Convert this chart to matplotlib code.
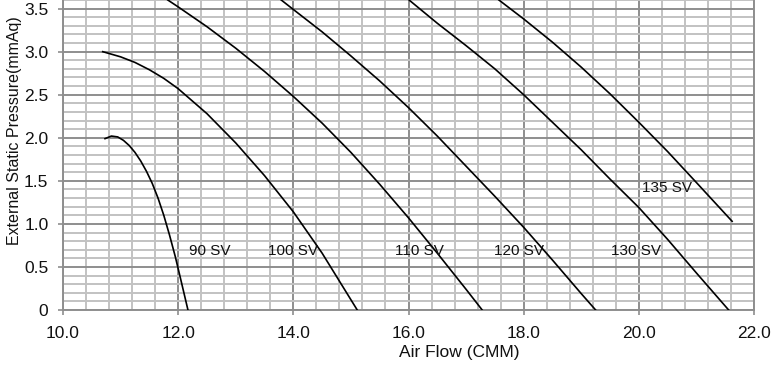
#!/usr/bin/env python3
'''
Fan performance curves: external static pressure vs air flow for each
speed setting (SV).
'''
import matplotlib
matplotlib.use("Agg")
import matplotlib.pyplot as plt
from matplotlib.ticker import MultipleLocator, FixedLocator

plt.rcParams['font.family'] = ['Liberation Sans', 'DejaVu Sans']

# curves: (air flow CMM, pressure mmAq)
sv90_flow = [10.73, 10.84, 10.95, 11.05, 11.15, 11.25, 11.35, 11.45, 11.55,
             11.65, 11.75, 11.85, 11.95, 12.05, 12.17]
sv90_pres = [1.99, 2.02, 2.01, 1.97, 1.91, 1.83, 1.73, 1.61, 1.47,
             1.30, 1.10, 0.87, 0.62, 0.34, 0.0]

sv100_flow = [10.69, 11.0, 11.25, 11.5, 11.75, 12.0, 12.5, 13.0, 13.5, 14.0,
              14.5, 15.11]
sv100_pres = [3.00, 2.94, 2.875, 2.79, 2.69, 2.57, 2.28, 1.94, 1.56, 1.14,
              0.66, 0.0]

sv110_flow = [11.82, 12.0, 12.5, 13.0, 13.5, 14.0, 14.5, 15.0, 15.5, 16.0,
              16.5, 17.0, 17.28]
sv110_pres = [3.60, 3.52, 3.29, 3.04, 2.77, 2.48, 2.17, 1.83, 1.46, 1.07,
              0.66, 0.24, 0.0]

sv120_flow = [13.79, 14.0, 14.5, 15.0, 15.5, 16.0, 16.5, 17.0, 17.5, 18.0,
              18.5, 19.0, 19.25]
sv120_pres = [3.60, 3.49, 3.23, 2.95, 2.66, 2.35, 2.02, 1.67, 1.32, 0.96,
              0.58, 0.19, 0.0]

sv130_flow = [16.01, 16.5, 17.0, 17.5, 18.0, 18.5, 19.0, 19.5, 20.0, 20.5,
              21.0, 21.56]
sv130_pres = [3.60, 3.33, 3.07, 2.80, 2.50, 2.18, 1.86, 1.52, 1.19, 0.82,
              0.43, 0.0]

sv135_flow = [17.57, 18.0, 18.5, 19.0, 19.5, 20.0, 20.5, 21.0, 21.62]
sv135_pres = [3.60, 3.38, 3.11, 2.82, 2.51, 2.18, 1.84, 1.48, 1.03]

curves = [
    (sv90_flow, sv90_pres),
    (sv100_flow, sv100_pres),
    (sv110_flow, sv110_pres),
    (sv120_flow, sv120_pres),
    (sv130_flow, sv130_pres),
    (sv135_flow, sv135_pres),
]

labels = ["90 SV", "100 SV", "110 SV", "120 SV", "130 SV", "135 SV"]
label_x = [12.55, 14.0, 16.19, 17.92, 19.95, 20.49]
label_y = [0.69, 0.69, 0.69, 0.69, 0.69, 1.42]

xticks = [10.0, 12.0, 14.0, 16.0, 18.0, 20.0, 22.0]
yticks = [0, 0.5, 1.0, 1.5, 2.0, 2.5, 3.0, 3.5]
ytick_labels = ["0", "0.5", "1.0", "1.5", "2.0", "2.5", "3.0", "3.5"]

major_c = "#8e8e8e"
minor_c = "#c2c2c2"

fig = plt.figure(figsize=(7.82, 3.66), dpi=100)
ax = fig.add_axes([63/782, 56/366, 691/782, 310/366])

ax.set_xlim(10.0, 22.0)
ax.set_ylim(0, 3.60)

ax.xaxis.set_major_locator(FixedLocator(xticks))
ax.xaxis.set_minor_locator(MultipleLocator(0.4))
ax.yaxis.set_major_locator(FixedLocator(yticks))
ax.yaxis.set_minor_locator(MultipleLocator(0.1))
ax.set_xticklabels(["%.1f" % t for t in xticks])
ax.set_yticklabels(ytick_labels)

ax.grid(which='minor', color=minor_c, linewidth=1.4, zorder=0)
ax.grid(which='major', color=major_c, linewidth=1.4, zorder=1)
ax.set_axisbelow(True)

ax.tick_params(which='major', length=3.5, width=1.2, color=major_c,
               labelsize=12.5, labelcolor="#111111")
ax.tick_params(axis='x', pad=8)
ax.tick_params(axis='y', pad=7)
ax.tick_params(which='minor', length=0)

for side in ('left', 'bottom', 'right'):
    ax.spines[side].set_color(major_c)
    ax.spines[side].set_linewidth(1.4)
ax.spines['top'].set_visible(False)

for (fx, py) in curves:
    ax.plot(fx, py, color="black", linewidth=1.2, zorder=3,
            solid_joinstyle='round')

for lab, lx, ly in zip(labels, label_x, label_y):
    ax.text(lx, ly, lab, ha='center', va='center', fontsize=11,
            color="#111111", zorder=4)

ax.set_xlabel("Air Flow (CMM)", fontsize=12.5, color="#111111")
ax.xaxis.set_label_coords(0.573, -0.113)
ax.set_ylabel("External Static Pressure(mmAq)", fontsize=11.5, color="#111111")
ax.yaxis.set_label_coords(-0.06, 0.58)

fig.savefig("out.png", dpi=100)
